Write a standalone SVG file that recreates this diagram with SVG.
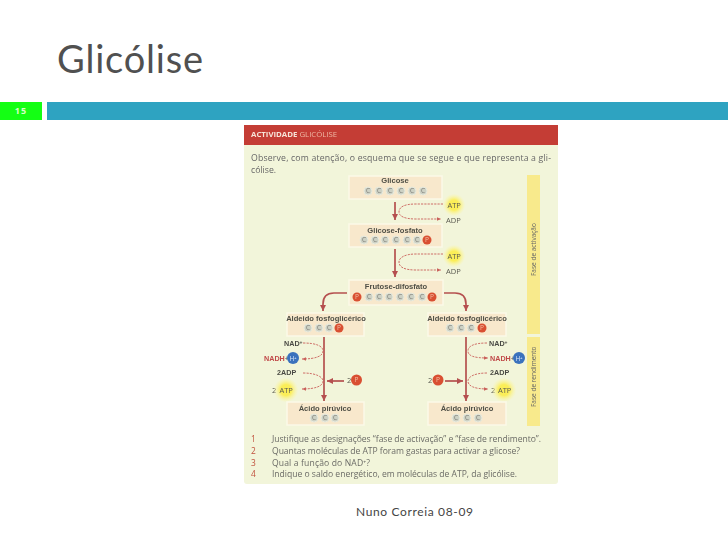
<svg xmlns="http://www.w3.org/2000/svg" width="728" height="546" viewBox="0 0 728 546">
<defs>
<style>
text{font-family:"Open Sans","Liberation Sans",sans-serif;fill:#555}
#art{filter:url(#soft)}
.b{font-family:"Liberation Sans",Arial,sans-serif;font-weight:700;font-size:7.6px;fill:#4f4f46;text-anchor:middle}
.box{fill:#f8e8cc;stroke:#fbf9e8;stroke-width:1.5}
.c{fill:#cdd1c4;stroke:#e8eade;stroke-width:1}
.ct{font-size:6.5px;fill:#7d7d78;text-anchor:middle}
.p{fill:#d94f32}
.pt{font-size:6.5px;fill:#f3c0a8;text-anchor:middle}
.sm{font-size:7.5px;fill:#5a5a50}
.sb{font-family:"Liberation Sans",Arial,sans-serif;font-size:7.2px;font-weight:700;fill:#4a4a44}
.q{font-size:8.6px;fill:#6b6b66}
.n{font-size:8.4px;fill:#c0503c}
.main{fill:none;stroke:#b5504f;stroke-width:1.7}
.da{fill:none;stroke:#c9605a;stroke-width:0.9;stroke-dasharray:2.2 1.1}
.h{fill:#3b72bd}
</style>
<filter id="soft" x="0" y="0" width="100%" height="100%"><feGaussianBlur stdDeviation="0.3"/></filter>
<marker id="a" markerWidth="8" markerHeight="8" refX="6" refY="3.500" orient="auto" markerUnits="userSpaceOnUse"><path d="M0 0.500L6 3.500L0 6.500Z" fill="#b5504f"/></marker>
<marker id="d" markerWidth="6" markerHeight="5" refX="4" refY="2.500" orient="auto" markerUnits="userSpaceOnUse"><path d="M0 0.700L4 2.500L0 4.300Z" fill="#c9605a"/></marker>
<radialGradient id="glow"><stop offset="0.45" stop-color="#fbee58"/><stop offset="1" stop-color="#fbf6a8" stop-opacity="0.1"/></radialGradient>
</defs>
<rect width="728" height="546" fill="#fff"/>
<g id="slide">
<text x="57" y="73" font-size="38" textLength="146" lengthAdjust="spacing" style="font-family:Lato,'Open Sans',sans-serif;font-weight:400;fill:#505050">Glicólise</text>
<rect x="0" y="102" width="42" height="18" fill="#14ff14"/>
<text x="21" y="114" font-size="9" font-weight="700" text-anchor="middle" letter-spacing="1" style="fill:#d8ffc8">15</text>
<rect x="47" y="102" width="681" height="18" fill="#2ea3c1"/>
<text x="356" y="516" font-size="12" textLength="117" lengthAdjust="spacing" style="font-family:Lato,'Open Sans',sans-serif;fill:#444">Nuno Correia 08-09</text>
</g>
<g id="art">
<g id="panel">
<rect x="244" y="125" width="314" height="359" rx="3" fill="#f2f5da"/>
<rect x="244" y="125" width="314" height="20" fill="#c43c34"/>
<text x="251" y="137" font-size="7.8" font-weight="700" style="fill:#f6e4d8">ACTIVIDADE <tspan font-weight="400" style="fill:#eeb8a4">GLICÓLISE</tspan></text>
<text x="251" y="161" font-size="8.7" textLength="300" style="fill:#666">Observe, com atenção, o esquema que se segue e que representa a gli-</text>
<text x="251" y="173" font-size="8.7" style="fill:#666">cólise.</text>
<rect x="527" y="175" width="13" height="159" fill="#f8ea8c"/>
<rect x="527" y="337" width="13" height="89" fill="#f8ea8c"/>
<text transform="translate(536,276) rotate(-90)" font-size="6.5" style="fill:#666">Fase de activação</text>
<text transform="translate(536,407) rotate(-90)" font-size="6.5" style="fill:#666">Fase de rendimento</text>
</g>
<g id="connectors">
<path class="main" d="M395 202V220" marker-end="url(#a)"/>
<path class="main" d="M395 249V277" marker-end="url(#a)"/>
<path class="main" d="M347 293H334Q323 293 323 304V311" marker-end="url(#a)"/>
<path class="main" d="M444 293H455Q466 293 466 304V311" marker-end="url(#a)"/>
<path class="main" d="M324 337V401" marker-end="url(#a)"/>
<path class="main" d="M466 337V401" marker-end="url(#a)"/>
<path class="main" d="M344 381H327" marker-end="url(#a)"/>
<path class="main" d="M445 381H463" marker-end="url(#a)"/>
<path class="da" d="M443 204H416C404 204 399 207 399 212C399 216 404 219 416 219H441" marker-end="url(#d)"/>
<path class="da" d="M443 254H416C404 254 399 258 399 262C399 267 404 270 416 270H441" marker-end="url(#d)"/>
<path class="da" d="M303 343C316 343 323 346 323 351C323 356 316 359 302 359" marker-end="url(#d)"/>
<path class="da" d="M303 373C316 373 323 377 323 381C323 386 316 389 302 389" marker-end="url(#d)"/>
<path class="da" d="M487 343C474 343 468 346 468 351C468 356 474 358 488 358" marker-end="url(#d)"/>
<path class="da" d="M487 373C474 373 468 377 468 381C468 386 474 389 488 389" marker-end="url(#d)"/>
</g>
<g id="glicose"><rect class="box" x="349" y="176" width="93" height="23"/><text class="b" x="395" y="183">Glicose</text>
<circle class="c" cx="368" cy="191" r="4"/><circle class="c" cx="379" cy="191" r="4"/><circle class="c" cx="390" cy="191" r="4"/><circle class="c" cx="401" cy="191" r="4"/><circle class="c" cx="412" cy="191" r="4"/><circle class="c" cx="423" cy="191" r="4"/>
<text class="ct" x="368" y="193">C</text><text class="ct" x="379" y="193">C</text><text class="ct" x="390" y="193">C</text><text class="ct" x="401" y="193">C</text><text class="ct" x="412" y="193">C</text><text class="ct" x="423" y="193">C</text></g>
<g id="atp1"><circle cx="454" cy="205" r="11" fill="url(#glow)"/><text class="sm" x="447.500" y="208">ATP</text></g>
<text id="adp1" class="sm" x="446" y="223">ADP</text>
<g id="glicose-fosfato"><rect class="box" x="349" y="224" width="93" height="23"/><text class="b" x="395" y="233">Glicose-fosfato</text>
<circle class="c" cx="364" cy="240" r="4"/><circle class="c" cx="375" cy="240" r="4"/><circle class="c" cx="385" cy="240" r="4"/><circle class="c" cx="396" cy="240" r="4"/><circle class="c" cx="407" cy="240" r="4"/><circle class="c" cx="417" cy="240" r="4"/><circle class="p" cx="427" cy="240" r="4.500"/>
<text class="ct" x="364" y="242">C</text><text class="ct" x="375" y="242">C</text><text class="ct" x="385" y="242">C</text><text class="ct" x="396" y="242">C</text><text class="ct" x="407" y="242">C</text><text class="ct" x="417" y="242">C</text><text class="pt" x="427" y="242">P</text></g>
<g id="atp2"><circle cx="454" cy="256" r="11" fill="url(#glow)"/><text class="sm" x="447.500" y="259">ATP</text></g>
<text id="adp2" class="sm" x="446" y="274">ADP</text>
<g id="frutose"><rect class="box" x="349" y="280" width="94" height="25"/><text class="b" x="396" y="289">Frutose-difosfato</text>
<circle class="p" cx="357" cy="297" r="4.500"/><circle class="c" cx="369" cy="297" r="4"/><circle class="c" cx="379" cy="297" r="4"/><circle class="c" cx="389" cy="297" r="4"/><circle class="c" cx="400" cy="297" r="4"/><circle class="c" cx="411" cy="297" r="4"/><circle class="c" cx="422" cy="297" r="4"/><circle class="p" cx="432" cy="297" r="4.500"/>
<text class="pt" x="357" y="299">P</text><text class="ct" x="369" y="299">C</text><text class="ct" x="379" y="299">C</text><text class="ct" x="389" y="299">C</text><text class="ct" x="400" y="299">C</text><text class="ct" x="411" y="299">C</text><text class="ct" x="422" y="299">C</text><text class="pt" x="432" y="299">P</text></g>
<g id="aldeido-l"><rect class="box" x="287" y="313" width="77" height="23"/><text class="b" x="326" y="321">Aldeido fosfoglicérico</text>
<circle class="c" cx="308" cy="328" r="4"/><circle class="c" cx="319" cy="328" r="4"/><circle class="c" cx="329" cy="328" r="4"/><circle class="p" cx="339" cy="328" r="4.500"/>
<text class="ct" x="308" y="330">C</text><text class="ct" x="319" y="330">C</text><text class="ct" x="329" y="330">C</text><text class="pt" x="339" y="330">P</text></g>
<g id="aldeido-r"><rect class="box" x="428" y="313" width="78" height="23"/><text class="b" x="467" y="321">Aldeido fosfoglicérico</text>
<circle class="c" cx="450" cy="328" r="4"/><circle class="c" cx="461" cy="328" r="4"/><circle class="c" cx="471" cy="328" r="4"/><circle class="p" cx="482" cy="328" r="4.500"/>
<text class="ct" x="450" y="330">C</text><text class="ct" x="461" y="330">C</text><text class="ct" x="471" y="330">C</text><text class="pt" x="482" y="330">P</text></g>
<g id="left-side">
<text class="sb" x="284" y="346">NAD<tspan font-size="5" dy="-2">+</tspan></text>
<text class="sb" x="264" y="361" style="fill:#c04848">NADH<tspan style="fill:#555" font-weight="400">+</tspan></text>
<circle class="h" cx="293" cy="358" r="6"/><text class="pt" x="293" y="360.500" style="fill:#dce8f8">H⁺</text>
<text class="sb" x="277" y="375">2ADP</text>
<text class="sm" x="272" y="393">2</text><circle cx="286" cy="390" r="12" fill="url(#glow)"/><text class="sm" x="279.500" y="393">ATP</text>
<text class="sm" x="347" y="383">2</text><circle class="p" cx="356.500" cy="380" r="5.500"/><text class="pt" x="356.500" y="382">P</text>
</g>
<g id="right-side">
<text class="sb" x="489" y="346">NAD<tspan font-size="5" dy="-2">+</tspan></text>
<text class="sb" x="490" y="361" style="fill:#c04848">NADH<tspan style="fill:#555" font-weight="400">+</tspan></text>
<circle class="h" cx="519" cy="358" r="6"/><text class="pt" x="519" y="360.500" style="fill:#dce8f8">H⁺</text>
<text class="sb" x="490" y="375">2ADP</text>
<text class="sm" x="491" y="393">2</text><circle cx="504" cy="390" r="12" fill="url(#glow)"/><text class="sm" x="498" y="393">ATP</text>
<text class="sm" x="428" y="383">2</text><circle class="p" cx="438" cy="380" r="5.500"/><text class="pt" x="438" y="382">P</text>
</g>
<g id="acido-l"><rect class="box" x="287" y="402" width="77" height="23"/><text class="b" x="325" y="411">Ácido pirúvico</text>
<circle class="c" cx="314" cy="418" r="4"/><circle class="c" cx="325" cy="418" r="4"/><circle class="c" cx="335" cy="418" r="4"/>
<text class="ct" x="314" y="420">C</text><text class="ct" x="325" y="420">C</text><text class="ct" x="335" y="420">C</text></g>
<g id="acido-r"><rect class="box" x="428" y="402" width="78" height="23"/><text class="b" x="467" y="411">Ácido pirúvico</text>
<circle class="c" cx="456" cy="418" r="4"/><circle class="c" cx="467" cy="418" r="4"/><circle class="c" cx="478" cy="418" r="4"/>
<text class="ct" x="456" y="420">C</text><text class="ct" x="467" y="420">C</text><text class="ct" x="478" y="420">C</text></g>
<g id="questions">
<text class="n" x="251" y="442">1</text><text class="q" x="272" y="442" textLength="269">Justifique as designações “fase de activação” e “fase de rendimento”.</text>
<text class="n" x="251" y="454">2</text><text class="q" x="272" y="454" textLength="248">Quantas moléculas de ATP foram gastas para activar a glicose?</text>
<text class="n" x="251" y="465.500">3</text><text class="q" x="272" y="465.500" textLength="98">Qual a função do NAD⁺?</text>
<text class="n" x="251" y="477">4</text><text class="q" x="272" y="477" textLength="245">Indique o saldo energético, em moléculas de ATP, da glicólise.</text>
</g>
</g>
</svg>
